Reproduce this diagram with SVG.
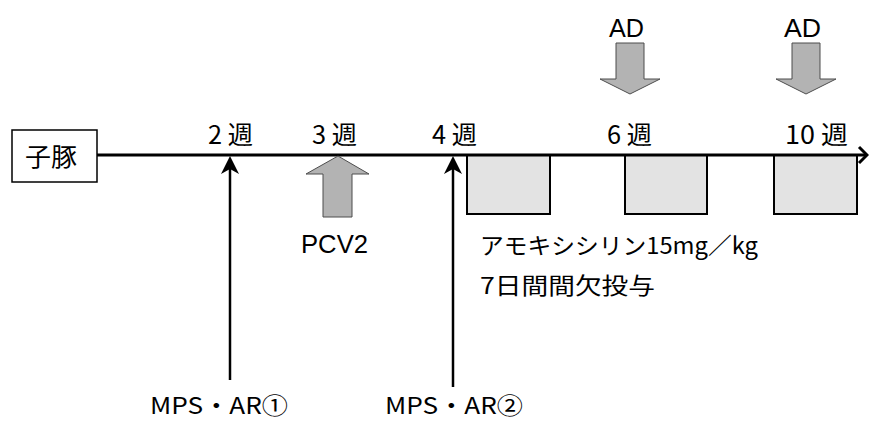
<svg xmlns="http://www.w3.org/2000/svg" width="869" height="421" viewBox="0 0 869 421">
<style>
  .t { font-family: "Noto Sans CJK JP", "Liberation Sans", sans-serif; font-size: 23px; fill: #000; }
  .w { font-family: "Noto Sans CJK JP", "Liberation Sans", sans-serif; font-size: 25px; fill: #000; }
  .m { font-family: "Noto Sans CJK JP", "Liberation Sans", sans-serif; font-size: 23px; fill: #000; }
  .l { font-family: "Liberation Sans", "Noto Sans CJK JP", sans-serif; font-size: 25px; fill: #000; }
  .block { fill: #b3b3b3; stroke: #4d4d4d; stroke-width: 1; }
  .dose { fill: #e3e3e3; stroke: #000; stroke-width: 2; }
  .ln { stroke: #000; stroke-width: 3; fill: none; }
  .up { stroke: #000; stroke-width: 2.5; fill: none; }
</style>
<rect width="869" height="421" fill="#fff"/>

<g id="piglet">
  <rect x="12" y="130" width="85" height="52" fill="#fff" stroke="#000" stroke-width="1.5"/>
  <text class="w" x="25" y="166" textLength="52" lengthAdjust="spacingAndGlyphs">子豚</text>
</g>

<g id="doses">
  <rect class="dose" x="467" y="155" width="83" height="59"/>
  <rect class="dose" x="625" y="155" width="82" height="59"/>
  <rect class="dose" x="774" y="155" width="83" height="59"/>
</g>

<g id="connectors">
  <line class="ln" x1="97" y1="155" x2="866" y2="155"/>
  <polyline class="ln" points="859,147 867,155 859,163"/>
  <line class="up" x1="230" y1="380" x2="230" y2="165"/>
  <polygon points="230,156 239,174 230,169 221,174" fill="#000"/>
  <line class="up" x1="453" y1="387" x2="453" y2="165"/>
  <polygon points="453,156 462,174 453,169 444,174" fill="#000"/>
</g>

<g id="weeks">
  <text class="w" x="208" y="144" textLength="45" lengthAdjust="spacingAndGlyphs">2 週</text>
  <text class="w" x="312" y="144" textLength="45" lengthAdjust="spacingAndGlyphs">3 週</text>
  <text class="w" x="432" y="144" textLength="45" lengthAdjust="spacingAndGlyphs">4 週</text>
  <text class="w" x="607" y="144" textLength="45" lengthAdjust="spacingAndGlyphs">6 週</text>
  <text class="w" x="785" y="144" textLength="63" lengthAdjust="spacingAndGlyphs">10 週</text>
</g>

<g id="pcv2">
  <polygon class="block" points="338,156 369,174 352,174 352,217 323,217 323,174 306,174"/>
  <text class="l" x="301" y="253" textLength="67" lengthAdjust="spacingAndGlyphs">PCV2</text>
</g>

<g id="ad1">
  <polygon class="block" points="616,43 644,43 644,79 660,79 630,94 600,79 616,79"/>
  <text class="l" x="609" y="37" textLength="35" lengthAdjust="spacingAndGlyphs">AD</text>
</g>

<g id="ad2">
  <polygon class="block" points="792,43 820,43 820,79 836,79 806,94 776,79 792,79"/>
  <text class="l" x="784" y="37" textLength="37" lengthAdjust="spacingAndGlyphs">AD</text>
</g>

<g id="amox">
  <text class="t" x="480" y="254" textLength="278" lengthAdjust="spacingAndGlyphs">アモキシシリン15mg／kg</text>
  <text class="t" x="480" y="294" textLength="175" lengthAdjust="spacingAndGlyphs">7日間間欠投与</text>
</g>

<g id="mps1">
  <text class="m" x="150" y="414" textLength="138" lengthAdjust="spacingAndGlyphs">MPS・AR①</text>
</g>
<g id="mps2">
  <text class="m" x="385" y="414" textLength="138" lengthAdjust="spacingAndGlyphs">MPS・AR②</text>
</g>
</svg>
